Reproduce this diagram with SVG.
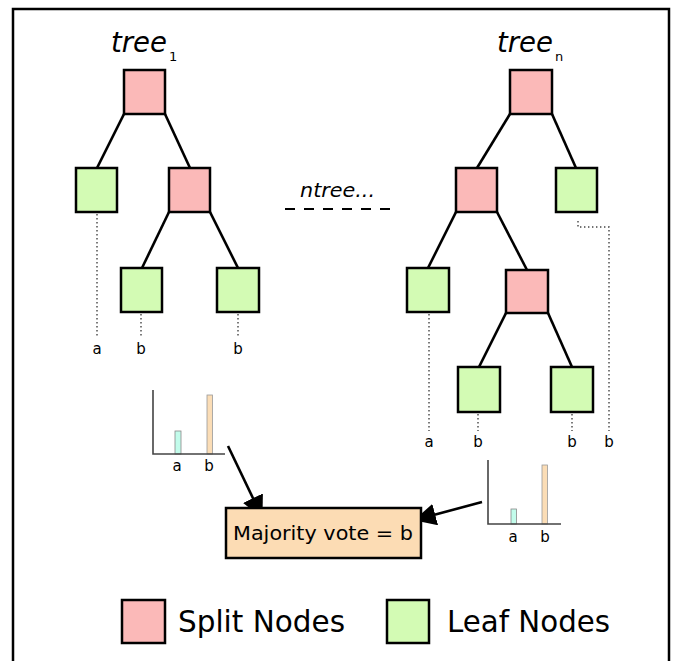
<svg xmlns="http://www.w3.org/2000/svg" width="676" height="661" viewBox="0 0 676 661">
<style>
.split{fill:#FBB9B8;stroke:#000;stroke-width:2.5}
.leaf{fill:#D3FBB4;stroke:#000;stroke-width:2.5}
.edge{stroke:#000;stroke-width:2.6;fill:none}
.dot{stroke:#444;stroke-width:1.4;fill:none;stroke-dasharray:1.4 2.6}
.lbl{font-family:"DejaVu Sans",Verdana,sans-serif;font-size:15px;fill:#000;text-anchor:middle}
.title{font-family:"DejaVu Sans",Verdana,sans-serif;font-style:italic;font-size:28px;fill:#000}
.sub{font-family:"DejaVu Sans",Verdana,sans-serif;font-size:13px;fill:#000}
.axis{stroke:#444;stroke-width:1.6;fill:none}
.bara{fill:#C2FCEB;stroke:#888;stroke-width:0.8}
.barb{fill:#FBDDB6;stroke:#999;stroke-width:0.8}
.legend{font-family:"DejaVu Sans",Verdana,sans-serif;font-size:30px;fill:#000}
</style>
<defs>
<marker id="ah" viewBox="0 0 20 20" markerWidth="22" markerHeight="22" refX="19" refY="10" orient="auto" markerUnits="userSpaceOnUse">
<path d="M0,0 L20,10 L0,20 z" fill="#000"/>
</marker>
</defs>
<rect x="0" y="0" width="676" height="661" fill="#fff"/>
<path d="M13,670 V9 H669 V670" fill="none" stroke="#000" stroke-width="2.5"/>

<g id="connectors">
<!-- tree 1 -->
<line class="edge" x1="124" y1="114" x2="97" y2="168"/>
<line class="edge" x1="165" y1="114" x2="190" y2="168"/>
<line class="edge" x1="169" y1="212" x2="142" y2="268"/>
<line class="edge" x1="210" y1="212" x2="238" y2="268"/>
<line class="dot" x1="97" y1="214" x2="97" y2="336"/>
<line class="dot" x1="141" y1="314" x2="141" y2="336"/>
<line class="dot" x1="238" y1="314" x2="238" y2="336"/>
<!-- tree n -->
<line class="edge" x1="510" y1="114" x2="477" y2="168"/>
<line class="edge" x1="552" y1="114" x2="576" y2="168"/>
<line class="edge" x1="456" y1="212" x2="428" y2="268"/>
<line class="edge" x1="497" y1="212" x2="527" y2="270"/>
<line class="edge" x1="506" y1="313" x2="479" y2="367"/>
<line class="edge" x1="548" y1="313" x2="572" y2="367"/>
<line class="dot" x1="429" y1="314" x2="429" y2="431"/>
<line class="dot" x1="478" y1="414" x2="478" y2="431"/>
<line class="dot" x1="572" y1="414" x2="572" y2="431"/>
<path class="dot" d="M578,221 V227 H609 V431"/>
<!-- ntree dashed -->
<line x1="285" y1="209" x2="391" y2="209" stroke="#000" stroke-width="2" stroke-dasharray="10 9"/>
<!-- vote arrows -->
<line class="edge" x1="228" y1="446" x2="262" y2="517" stroke-width="3" marker-end="url(#ah)"/>
<line class="edge" x1="482" y1="502" x2="415" y2="520" stroke-width="3" marker-end="url(#ah)"/>
</g>

<g id="tree1-label">
<text class="title" x="111" y="52" textLength="56" lengthAdjust="spacingAndGlyphs">tree</text>
<text class="sub" x="169" y="61">1</text>
</g>
<g id="treen-label">
<text class="title" x="497" y="52" textLength="56" lengthAdjust="spacingAndGlyphs">tree</text>
<text class="sub" x="555" y="61">n</text>
</g>
<g id="ntree-label">
<text x="300" y="197" font-family="DejaVu Sans, Verdana, sans-serif" font-style="italic" font-size="20" textLength="75" lengthAdjust="spacingAndGlyphs">ntree...</text>
</g>

<g id="t1-root"><rect class="split" x="124" y="70" width="41" height="44"/></g>
<g id="t1-leaf-a"><rect class="leaf" x="76" y="168" width="41" height="44"/></g>
<g id="t1-split"><rect class="split" x="169" y="168" width="41" height="44"/></g>
<g id="t1-leaf-b1"><rect class="leaf" x="121" y="268" width="41" height="44"/></g>
<g id="t1-leaf-b2"><rect class="leaf" x="217" y="268" width="42" height="44"/></g>

<g id="tn-root"><rect class="split" x="510" y="70" width="42" height="44"/></g>
<g id="tn-split1"><rect class="split" x="456" y="168" width="41" height="44"/></g>
<g id="tn-leaf-r"><rect class="leaf" x="556" y="168" width="41" height="44"/></g>
<g id="tn-leaf-a"><rect class="leaf" x="407" y="268" width="42" height="44"/></g>
<g id="tn-split2"><rect class="split" x="506" y="270" width="42" height="43"/></g>
<g id="tn-leaf-b1"><rect class="leaf" x="458" y="367" width="42" height="45"/></g>
<g id="tn-leaf-b2"><rect class="leaf" x="551" y="367" width="42" height="45"/></g>

<g id="t1-labels">
<text class="lbl" x="97" y="354">a</text>
<text class="lbl" x="141" y="354">b</text>
<text class="lbl" x="238" y="354">b</text>
</g>
<g id="tn-labels">
<text class="lbl" x="429" y="447">a</text>
<text class="lbl" x="478" y="447">b</text>
<text class="lbl" x="572" y="447">b</text>
<text class="lbl" x="609" y="447">b</text>
</g>

<g id="chart1">
<rect class="bara" x="175" y="431" width="6" height="23"/>
<rect class="barb" x="207" y="395" width="5.5" height="59"/>
<path class="axis" d="M153,390 V454 H225"/>
<text class="lbl" x="177" y="471">a</text>
<text class="lbl" x="209" y="471">b</text>
</g>

<g id="chart2">
<rect class="bara" x="511" y="509" width="5.5" height="15"/>
<rect class="barb" x="542" y="465" width="5.5" height="59"/>
<path class="axis" d="M488,460 V524 H561"/>
<text class="lbl" x="513" y="542">a</text>
<text class="lbl" x="545" y="542">b</text>
</g>

<g id="majority">
<rect x="226" y="508" width="195" height="50" fill="#FCDCB4" stroke="#000" stroke-width="2.5"/>
<text x="233" y="540" font-family="DejaVu Sans, Verdana, sans-serif" font-size="19" textLength="180" lengthAdjust="spacingAndGlyphs">Majority vote = b</text>
</g>

<g id="legend-split">
<rect class="split" x="122" y="600" width="43" height="43"/>
<text class="legend" x="178" y="632" textLength="167" lengthAdjust="spacingAndGlyphs">Split Nodes</text>
</g>
<g id="legend-leaf">
<rect class="leaf" x="387" y="600" width="42" height="43"/>
<text class="legend" x="447" y="632" textLength="163" lengthAdjust="spacingAndGlyphs">Leaf Nodes</text>
</g>
</svg>
